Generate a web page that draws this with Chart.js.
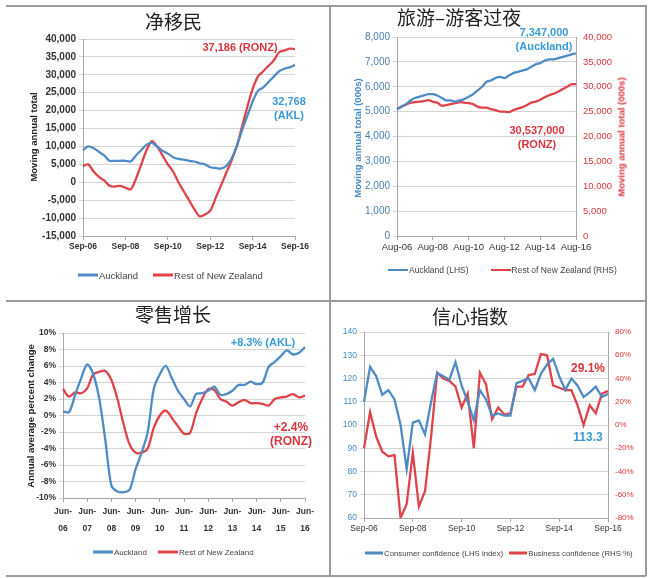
<!DOCTYPE html>
<html>
<head>
<meta charset="utf-8">
<script src="https://cdn.jsdelivr.net/npm/chart.js@4.4.1/dist/chart.umd.min.js"></script>
<style>
  body { margin: 0; background: #fff; width: 650px; height: 578px; position: relative; overflow: hidden; font-family: "Liberation Sans", Arial, sans-serif; }
  canvas { position: absolute; }
  .rule { position: absolute; background: #9c9c9c; }
  .title { position: absolute; font-family: "Noto Sans CJK SC", sans-serif; font-size: 19px; color: #222; line-height: 1; white-space: nowrap; }
  .note { position: absolute; font-weight: bold; font-size: 11px; line-height: 14px; white-space: nowrap; text-align: center; transform: translate(-50%, -50%); }
  .ytitle { position: absolute; font-weight: bold; font-size: 9.5px; white-space: nowrap; transform: translate(-50%, -50%) rotate(-90deg); }
  .legend { position: absolute; display: flex; align-items: center; white-space: nowrap; color: #444; transform: translateY(-50%); }
  .legend i { display: inline-block; width: 20px; height: 2.5px; margin-right: 1px; }
  .legend span { margin-right: 15px; }
</style>
</head>
<body>

<canvas id="migration-chart" width="330" height="300" style="left:0;top:0"></canvas>
<canvas id="tourism-chart" width="316" height="300" style="left:331px;top:0"></canvas>
<canvas id="retail-chart" width="330" height="275" style="left:0;top:301px"></canvas>
<canvas id="confidence-chart" width="316" height="275" style="left:331px;top:301px"></canvas>

<!-- panel frame -->
<div class="rule" style="left:6px;top:5px;width:640px;height:1.5px"></div>
<div class="rule" style="left:6px;top:300px;width:640px;height:1.5px"></div>
<div class="rule" style="left:6px;top:575px;width:640px;height:1.5px"></div>
<div class="rule" style="left:329px;top:5px;width:1.5px;height:571px"></div>
<div class="rule" style="left:645px;top:5px;width:1.5px;height:571px"></div>

<!-- titles -->
<div class="title" style="left:145px;top:11px">净移民</div>
<div class="title" style="left:397px;top:7px">旅游–游客过夜</div>
<div class="title" style="left:135px;top:304px">零售增长</div>
<div class="title" style="left:432px;top:306px">信心指数</div>

<!-- axis titles -->
<div class="ytitle" style="left:33px;top:137px;color:#222">Moving annual total</div>
<div class="ytitle" style="left:357px;top:138px;color:#4a8cc4">Moving annual total (000s)</div>
<div class="ytitle" style="left:621px;top:137px;color:#d8363c">Moving annual total (000s)</div>
<div class="ytitle" style="left:30px;top:416px;color:#222">Annual average percent change</div>

<!-- call-outs -->
<div class="note" style="left:240px;top:47px;color:#d8363c">37,186 (RONZ)</div>
<div class="note" style="left:289px;top:108px;color:#3a9ad6">32,768<br>(AKL)</div>
<div class="note" style="left:544px;top:39px;color:#3a9ad6">7,347,000<br>(Auckland)</div>
<div class="note" style="left:537px;top:137px;color:#d8363c">30,537,000<br>(RONZ)</div>
<div class="note" style="left:263px;top:342px;color:#3a9ad6">+8.3% (AKL)</div>
<div class="note" style="left:291px;top:434px;color:#d8363c;font-size:12px">+2.4%<br>(RONZ)</div>
<div class="note" style="left:588px;top:368px;color:#d8363c;font-size:12px">29.1%</div>
<div class="note" style="left:588px;top:437px;color:#3a9ad6;font-size:12px">113.3</div>

<!-- legends -->
<div class="legend" style="left:78px;top:275px;font-size:9.5px"><i style="background:#4f8cc6"></i><span>Auckland</span><i style="background:#e0444a"></i>Rest of New Zealand</div>
<div class="legend" style="left:388px;top:270px;font-size:8.5px"><i style="background:#4f8cc6"></i><span style="margin-right:22px">Auckland (LHS)</span><i style="background:#e0444a"></i>Rest of New Zealand (RHS)</div>
<div class="legend" style="left:93px;top:552px;font-size:8px"><i style="background:#4f8cc6"></i><span style="margin-right:11px">Auckland</span><i style="background:#e0444a"></i>Rest of New Zealand</div>
<div class="legend" style="left:365px;top:553px;font-size:7.8px"><i style="background:#4f8cc6;width:18px"></i><span style="margin-right:6px">Consumer confidence (LHS index)</span><i style="background:#e0444a;width:18px"></i>Business confidence (RHS %)</div>

<script>
// Net migration, quarterly Sep-06 .. Sep-16
const migrationTicks = ['Sep-06', 'Sep-08', 'Sep-10', 'Sep-12', 'Sep-14', 'Sep-16'];
const migrationAuckland = [
  9000, 10000, 9500, 8500, 7500, 6000, 6000, 6000, 6000, 5800,
  7500, 9000, 10500, 11000, 10000, 8800, 8000, 7000, 6500, 6300,
  6000, 5800, 5300, 5000, 4200, 4000, 3800, 4500, 6500, 10000,
  14500, 18500, 22500, 25500, 26500, 28000, 29500, 31000, 31700, 32100, 32768
];
const migrationRest = [
  4500, 5000, 3000, 1500, 500, -1000, -1200, -1000, -1500, -2000,
  1000, 5000, 9000, 11500, 10000, 7500, 5000, 3000, 0, -2500,
  -5000, -7500, -9500, -9000, -8000, -4500, -1000, 2500, 6000, 10000,
  15500, 21000, 26000, 29500, 31000, 32500, 34000, 36300, 36800, 37300, 37186
];

// Visitor guest nights, quarterly Aug-06 .. Aug-16 (000s)
const tourismTicks = ['Aug-06', 'Aug-08', 'Aug-10', 'Aug-12', 'Aug-14', 'Aug-16'];
const tourismAuckland = [
  5100, 5200, 5300, 5450, 5550, 5600, 5650, 5700, 5700, 5650,
  5550, 5450, 5450, 5400, 5450, 5500, 5600, 5700, 5850, 6000,
  6200, 6250, 6350, 6400, 6350, 6450, 6550, 6600, 6650, 6700,
  6800, 6900, 6950, 7050, 7100, 7100, 7150, 7200, 7250, 7300, 7347
];
const tourismRest = [
  25500, 26000, 26400, 26800, 26900, 27000, 27100, 27300, 27000, 26800,
  26200, 26300, 26500, 26700, 26900, 26800, 26700, 26500, 26000, 25800,
  25800, 25500, 25300, 25000, 25000, 24900, 25300, 25600, 25900, 26300,
  26800, 27000, 27400, 27900, 28300, 28600, 29000, 29500, 30000, 30500, 30537
];

// Retail sales growth, quarterly Jun-06 .. Jun-16 (%)
const retailTicks = ['Jun-06', 'Jun-07', 'Jun-08', 'Jun-09', 'Jun-10', 'Jun-11', 'Jun-12', 'Jun-13', 'Jun-14', 'Jun-15', 'Jun-16'];
const retailAuckland = [
  0.5, 0.4, 2.5, 4.5, 6.2, 5.0, 2.0, -3.0, -8.5, -9.2,
  -9.3, -9.0, -6.5, -4.5, -2.0, 3.2, 5.0, 6.0, 4.5, 3.0,
  2.0, 1.1, 2.6, 2.7, 3.0, 3.5, 2.5, 2.6, 3.0, 3.7,
  3.7, 4.1, 3.8, 4.0, 5.9, 6.5, 7.2, 7.9, 7.4, 7.6, 8.3
];
const retailRest = [
  3.2, 2.3, 2.8, 2.7, 3.3, 5.0, 5.3, 5.4, 4.3, 2.0,
  -1.0, -3.5, -4.5, -4.5, -4.0, -1.5, 0.0, 0.6, -0.3, -1.3,
  -2.2, -2.1, 0.3, 2.0, 3.2, 3.1, 2.0, 1.7, 1.2, 1.6,
  1.9, 1.5, 1.5, 1.4, 1.2, 2.0, 2.2, 2.3, 2.6, 2.2, 2.4
];

// Confidence, quarterly Sep-06 .. Sep-16
const confidenceTicks = ['Sep-06', 'Sep-08', 'Sep-10', 'Sep-12', 'Sep-14', 'Sep-16'];
const consumerConfidence = [
  110, 125, 121, 113, 115, 111, 100, 81, 101, 102,
  96, 110, 122.5, 121, 119.5, 127, 117, 110, 102, 115,
  111, 104, 105, 104, 104, 118, 119, 120, 115, 122,
  126, 128.5, 121, 115, 120, 117, 112, 114, 116.5, 112, 113.3
];
const businessConfidence = [
  -20, 11, -10, -23, -27, -26, -80, -68, -24, -70,
  -57, -10, 45, 40, 38, 33, 15, 27, -20, 45,
  35, 5, 15, 9, 10, 33, 33, 43, 44, 61,
  60, 34, 32, 30, 30, 17, 0, 17, 10, 27, 29.1
];

const MONTHS = ['Jan', 'Feb', 'Mar', 'Apr', 'May', 'Jun', 'Jul', 'Aug', 'Sep', 'Oct', 'Nov', 'Dec'];
const BLUE = '#4f8cc6';
const RED = '#e0444a';
const GRID = '#d4d4d4';
const AXIS = '#a8a8a8';
const FONT = '"Liberation Sans", Arial, sans-serif';

// Quarter labels like "Sep-06", "Dec-06", ...
function quarterLabels(monthIndex, year, count) {
  const out = [];
  for (let i = 0; i < count; i++) {
    const m = monthIndex + i * 3;
    out.push(MONTHS[m % 12] + '-' + String((year + Math.floor(m / 12)) % 100).padStart(2, '0'));
  }
  return out;
}

function lineSet(data, color, axis, tension) {
  return {
    data: data,
    borderColor: color,
    borderWidth: 2.3,
    pointRadius: 0,
    tension: tension,
    yAxisID: axis || 'y',
  };
}

// x axis showing only the listed quarter labels
function xAxis(ticks, font, color, height, splitLines) {
  return {
    grid: { drawOnChartArea: false, color: AXIS, tickLength: 4 },
    border: { color: AXIS },
    ticks: {
      autoSkip: false,
      maxRotation: 0,
      color: color,
      font: font,
      padding: 2,
      callback: function (value) {
        const lab = this.getLabelForValue(value);
        if (!ticks.includes(lab)) return null;
        return splitLines ? [lab.slice(0, 4), lab.slice(4)] : lab;
      },
    },
    afterFit: (s) => { s.height = height; },
  };
}

function yAxis(min, max, step, opts) {
  return {
    position: opts.position || 'left',
    min: min,
    max: max,
    grid: { display: opts.grid !== false, color: GRID, tickLength: 4, drawTicks: true },
    border: { color: AXIS },
    ticks: {
      stepSize: step,
      color: opts.color,
      font: opts.font,
      padding: 3,
      callback: opts.format,
    },
    afterFit: (s) => { s.width = opts.width; },
  };
}

const commaFmt = (v) => v.toLocaleString('en-US');
const pctFmt = (v) => v + '%';

function baseOptions(padding, scales) {
  return {
    responsive: false,
    animation: false,
    layout: { padding: padding },
    plugins: { legend: { display: false }, tooltip: { enabled: false } },
    scales: scales,
  };
}

function initCharts() {
  // 净移民
  new Chart(document.getElementById('migration-chart'), {
    type: 'line',
    data: {
      labels: quarterLabels(8, 2006, migrationAuckland.length),
      datasets: [lineSet(migrationAuckland, BLUE, 'y', 0.3), lineSet(migrationRest, RED, 'y', 0.3)],
    },
    options: baseOptions({ left: 23, right: 35, top: 39, bottom: 44 }, {
      x: xAxis(migrationTicks, { family: FONT, size: 8.5, weight: 'bold' }, '#333', 20, false),
      y: yAxis(-15000, 40000, 5000, { width: 60, color: '#333', font: { family: FONT, size: 10, weight: 'bold' }, format: commaFmt }),
    }),
  });

  // 旅游–游客过夜
  new Chart(document.getElementById('tourism-chart'), {
    type: 'line',
    data: {
      labels: quarterLabels(7, 2006, tourismAuckland.length),
      datasets: [lineSet(tourismAuckland, BLUE, 'y', 0.3), lineSet(tourismRest, RED, 'y2', 0.3)],
    },
    options: baseOptions({ left: 16, right: 16, top: 37, bottom: 44 }, {
      x: xAxis(tourismTicks, { family: FONT, size: 9.5 }, '#333', 20, false),
      y: yAxis(0, 8000, 1000, { width: 50, color: '#4a7fb0', font: { family: FONT, size: 10 }, format: commaFmt }),
      y2: yAxis(0, 40000, 5000, { position: 'right', grid: false, width: 55, color: '#d8363c', font: { family: FONT, size: 9.5 }, format: commaFmt }),
    }),
  });

  // 零售增长
  new Chart(document.getElementById('retail-chart'), {
    type: 'line',
    data: {
      labels: quarterLabels(5, 2006, retailAuckland.length),
      datasets: [lineSet(retailAuckland, BLUE, 'y', 0.3), lineSet(retailRest, RED, 'y', 0.3)],
    },
    options: baseOptions({ left: 20, right: 25, top: 32, bottom: 40 }, {
      x: xAxis(retailTicks, { family: FONT, size: 8.5, weight: 'bold', lineHeight: 1.9 }, '#333', 38, true),
      y: yAxis(-10, 10, 2, { width: 43, color: '#333', font: { family: FONT, size: 8.5, weight: 'bold' }, format: pctFmt }),
    }),
  });

  // 信心指数
  new Chart(document.getElementById('confidence-chart'), {
    type: 'line',
    data: {
      labels: quarterLabels(8, 2006, consumerConfidence.length),
      datasets: [lineSet(consumerConfidence, BLUE, 'y', 0), lineSet(businessConfidence, RED, 'y2', 0)],
    },
    options: baseOptions({ left: 0, right: 0, top: 31, bottom: 38 }, {
      x: xAxis(confidenceTicks, { family: FONT, size: 8.5 }, '#333', 20, false),
      y: yAxis(60, 140, 10, { width: 33, color: '#4a8cc4', font: { family: FONT, size: 8.5 }, format: (v) => v }),
      y2: yAxis(-80, 80, 20, { position: 'right', grid: false, width: 39, color: '#d8363c', font: { family: FONT, size: 8 }, format: pctFmt }),
    }),
  });
}

window.onload = initCharts;
</script>
</body>
</html>
